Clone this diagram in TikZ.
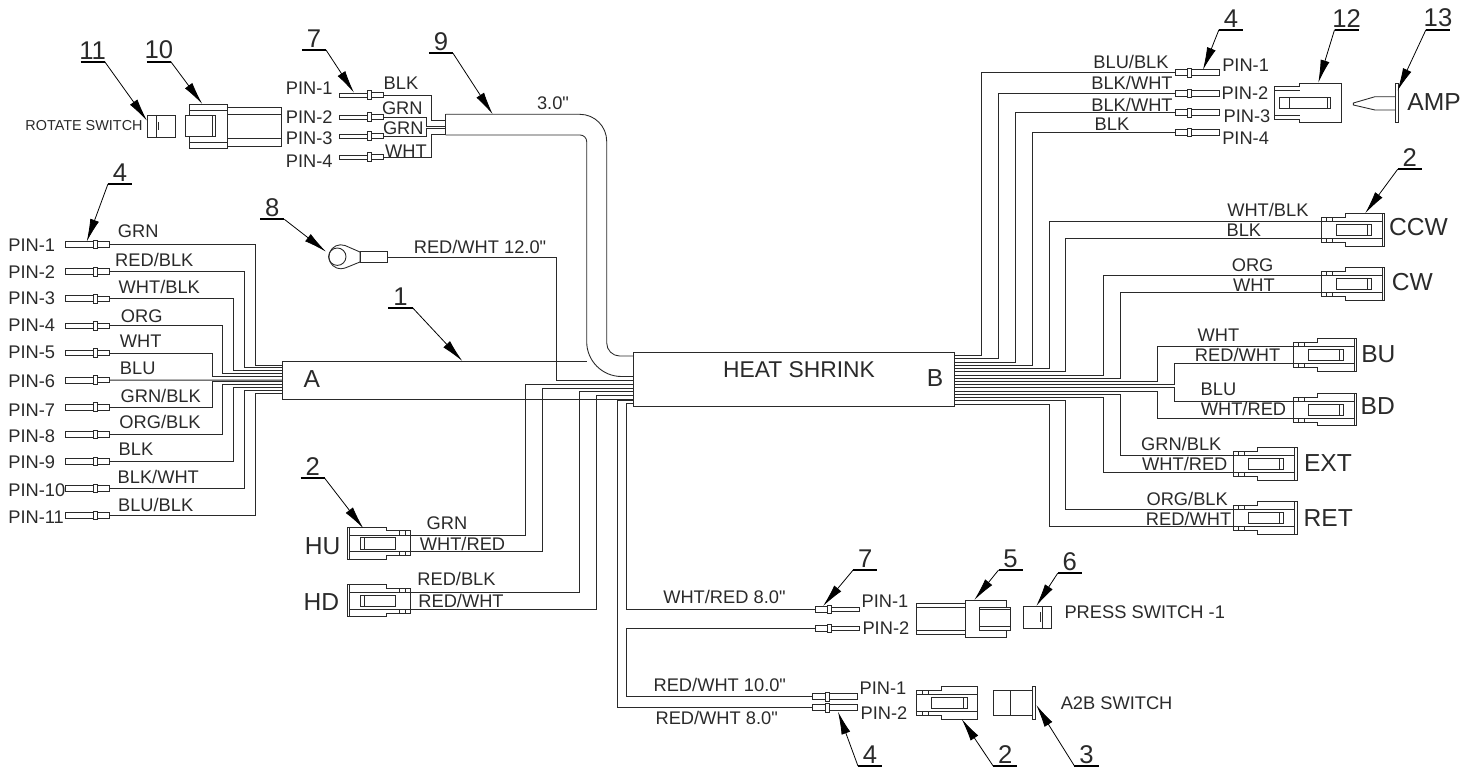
\documentclass[tikz,border=0pt]{standalone}
\usepackage{fontspec}
\setmainfont[Ligatures=TeXOff]{Liberation Sans}
\usetikzlibrary{arrows.meta}
\definecolor{ink}{HTML}{2A2A2A}
\tikzset{
  wire/.style={draw=ink,line width=0.55pt},
  part/.style={draw=ink,line width=0.5pt,fill=white},
  edge/.style={draw=ink,line width=0.5pt},
  colour/.style={text=ink,inner sep=0pt,font=\fontsize{10.4}{12}\selectfont},
  tag/.style={text=ink,inner sep=0pt,font=\fontsize{14}{16}\selectfont},
  note/.style={text=ink,inner sep=0pt,font=\fontsize{8.2}{10}\selectfont},
  itemno/.style={text=ink,inner sep=0pt,inner ysep=1.3pt,font=\fontsize{14.6}{16}\selectfont},
  pics/termpin/.style={code={
    \draw[part] (0,-#1) rectangle (28,#1);
    \draw[part] (28,-4.3) rectangle (32,4.3);
    \draw[part] (32,-2.8) rectangle (44.5,2.8);
    \coordinate (-w) at (44.5,0);
  }},
  pics/plug/.style={code={
    \draw[part] (0,-12.6) -- (24.4,-12.6) -- (24.4,-16.2) -- (61,-16.2) -- (61,16.2)
                -- (24.4,16.2) -- (24.4,12.6) -- (0,12.6) -- cycle;
    \draw[edge] (0,-8.3) -- (61,-8.3) (0,8.3) -- (61,8.3);
    \draw[part] (0,-12.6) rectangle (11.5,-8.3);
    \draw[part] (0,8.3) rectangle (11.5,12.6);
    \draw[edge] (5.5,-12.6) -- (5.5,-8.3) (5.5,8.3) -- (5.5,12.6);
    \draw[part] (15,-5.7) rectangle (50.4,5.7);
    \draw[edge] (46.3,-5.7) -- (46.3,5.7);
    \draw[part] (61,-16.2) rectangle (#1,16.2);
    \coordinate (-t) at (0,-8.3);
    \coordinate (-b) at (0,8.3);
  }}
}
\begin{document}
\begin{tikzpicture}[x=0.02cm,y=-0.02cm]
\useasboundingbox (0,0) rectangle (1475,767);
\foreach \k in {1,2,...,11}
  \coordinate (a\k) at (282.3,{365+2.83*(\k-1)});
\coordinate (a6) at (282.3,380.1);
\foreach \k in {0,1,...,15}
  \coordinate (b\k) at (954.3,{355.7+3.22*\k});
\foreach \k/\y in {1/380.7, 2/384.3, 3/388, 4/391.7, 5/395.5, 6/400, 7/403.3}
  \coordinate (h\k) at (633,\y);
\foreach \k/\y in {1/120, 2/126, 3/128.3, 4/134.3}
  \coordinate (c\k) at (445.7,\y);
% terminals
\foreach \k in {1,2,...,11}
  \pic (pa\k) at (65,{217.5+27.1*\k}) {termpin=2.9};
\foreach \k/\y in {1/95, 2/117, 3/136, 4/157}
  \pic (pt\k) at (339,\y) {termpin=2};
\foreach \k/\y in {1/72.7, 2/93.3, 3/112.7, 4/132.3}
  \pic[xscale=-1] (pr\k) at (1219.5,\y) {termpin=2.9};
\pic[xscale=-1] (pp1) at (859.5,609.3) {termpin=2};
\pic[xscale=-1] (pp2) at (859.5,628.3) {termpin=2};
\pic[xscale=-1] (pq1) at (857.2,696.7) {termpin=2.9};
\pic[xscale=-1] (pq2) at (857.2,707.7) {termpin=2.9};
% plugs
\foreach \n/\x/\y/\m/\p/\q in {ccw/1321/230/CCW/1418.4/227.3, cw/1321/284/CW/1412.4/282.3,
    bu/1293.2/355/BU/1378.4/354.3, bd/1293.2/409.7/BD/1377.7/405.7,
    ext/1233.4/464/EXT/1328/463.3, ret/1233.4/518/RET/1328.3/517.7}
  {\pic (\n) at (\x,\y) {plug=63.6};
   \node[tag] (lb\n) at (\p,\q) {\m};};
\pic[xscale=-1] (hu) at (410.7,543.3) {plug=63.6};
\pic[xscale=-1] (hd) at (410.7,600.7) {plug=63.6};
\pic (ab) at (916.9,703) {plug=61};
\node[tag] (lbhu) at (322.7,545.7) {HU};
\node[tag] (lbhd) at (321.3,602.3) {HD};
% ring terminal
\draw[part] (360,252) -- (345,245.5) arc (-70:-290:12) -- (360,262) -- cycle;
\draw[edge] (337.3,256.7) circle [radius=8.7];
\draw[part] (360,251.3) rectangle (387.3,262.7);
\coordinate (ring) at (387.3,257);
% wires
\foreach \k/\x in {1/255, 2/244.7, 3/233.3, 4/222.7, 5/212, 7/212, 8/222.7, 9/233.3, 10/244.7, 11/255}
  \draw[wire] (pa\k-w) -| (a\k -| \x,0) -- (a\k);
\draw[wire] (pa6-w) -- (a6);
\foreach \k/\x/\e in {0/981.4/pr1-w, 1/998.5/pr2-w, 2/1015.2/pr3-w, 3/1032.5/pr4-w,
    4/1049.2/ccw-t, 5/1065.9/ccw-b, 6/1103.4/cw-t, 7/1120.1/cw-b,
    8/1157.7/bu-t, 9/1174.4/bu-b, 10/1174.4/bd-t, 11/1157.7/bd-b,
    12/1120.1/ext-t, 13/1103.4/ext-b, 14/1065.9/ret-t, 15/1049.2/ret-b}
  \draw[wire] (b\k) -| (\e -| \x,0) -- (\e);
\foreach \k/\x/\e in {1/556/ring, 2/525.3/hu-t, 3/542.7/hu-b, 4/579.3/hd-t, 5/596.7/hd-b,
    6/617.5/pq2-w, 7/626.5/pp1-w}
  \draw[wire] (h\k) -| (\e -| \x,0) -- (\e);
\draw[wire] (pp2-w) -| (pq1-w -| 626.5,0) -- (pq1-w);
\draw[wire] (pt1-w) -| (c1 -| 431.7,0) -- (c1);
\draw[wire] (pt2-w) -| (c2 -| 426.7,0) -- (c2);
\draw[wire] (pt3-w) -| (c3 -| 426.7,0) -- (c3);
\draw[wire] (pt4-w) -| (c4 -| 431.7,0) -- (c4);
% sleeves
\draw[edge] (586.7,361.3) -| (282.3,399) -- (633,399);
\node[part,minimum width=6.426cm,minimum height=1.08cm,inner sep=0pt] (shrink) at (793.65,379.7) {};
\draw[edge] (445.7,114.3) -- (445.7,135);
\draw[edge,rounded corners=15.3pt] (445.7,114.3) -- (606.7,114.3)
   [rounded corners=7.4pt] -- (606.7,356) -- (633,356);
\draw[edge,rounded corners=3.8pt] (445.7,135) -- (586.7,135)
   [rounded corners=19.8pt] -- (586.7,376.5) -- (633,376.5);
\node[tag] (lba) at (311.7,379.3) {A};
\node[tag] (lbb) at (935,378) {B};
\node[tag,font=\fontsize{13}{15}\selectfont] (lbshrink) at (799,370) {HEAT SHRINK};
% connectors and switches
\draw[part] (189,104) rectangle (227.7,148);
\draw[edge] (189,110) -- (227.7,110) (189,142) -- (227.7,142);
\draw[part] (227.7,107) rectangle (281.7,146);
\draw[edge] (227.7,114) -- (281.7,114) (227.7,138) -- (281.7,138);
\draw[part] (185,115.7) rectangle (215,136.7);
\draw[edge] (212.5,115.7) -- (212.5,136.7);
\draw[part] (147.3,115) rectangle (175.7,137.3);
\draw[edge] (156.7,115) -- (156.7,137.3) (158,122) -- (158,130);
\draw[part] (1341.9,83.3) -- (1299.5,83.3) -- (1299.5,86.7) -- (1274.8,86.7) -- (1274.8,119)
   -- (1299.5,119) -- (1299.5,122.3) -- (1341.9,122.3) -- cycle;
\draw[edge] (1274.8,90) -- (1299.5,90) (1274.8,115) -- (1299.5,115);
\draw[part] (1279.3,97.7) rectangle (1330.8,108.3);
\draw[edge] (1289.8,97.7) -- (1289.8,108.3) (1327.3,97.7) -- (1327.3,108.3);
\draw[part] (1395,96.7) -- (1375,96.7) -- (1353.4,103) -- (1353.4,105) -- (1375,110) -- (1395,110);
\draw[part] (1395,83.3) rectangle (1398.2,122.3);
\draw[part] (916.9,603.3) rectangle (965.5,634.3);
\draw[edge] (916.9,607.5) -- (965.5,607.5) (916.9,630) -- (965.5,630);
\draw[part] (965.5,600) rectangle (1006.4,637.3);
\draw[part] (979.6,607.7) rectangle (1010.6,630);
\draw[edge] (979.6,609.5) -- (1010.6,609.5) (979.6,626.7) -- (1010.6,626.7);
\draw[part] (1023.6,606) rectangle (1051.6,628.3);
\draw[edge] (1042,606) -- (1042,628.3) (1040,612) -- (1040,622);
\draw[part] (993.4,690) rectangle (1032.5,715);
\draw[edge] (1010.6,690) -- (1010.6,715);
\draw[part] (1032.5,686.7) rectangle (1035.5,719);
% pin names
\foreach \k/\y in {1/245, 2/272.3, 3/298.3, 4/325, 5/352.3, 6/381, 7/410, 8/436.7, 9/462.7, 10/490, 11/517.3}
  \node[colour,anchor=west] (na\k) at (8,\y) {PIN-\k};
\foreach \k/\y in {1/88.3, 2/116.7, 3/138.3, 4/161.7}
  \node[colour,anchor=east] (nt\k) at (333,\y) {PIN-\k};
\foreach \k/\x/\y in {1/1245.6/65.7, 2/1245/93.3, 3/1247/116, 4/1245.6/138.3}
  \node[colour] (nr\k) at (\x,\y) {PIN-\k};
\foreach \k/\x/\y in {1/885/601, 2/885.9/628.3}
  \node[colour] (np\k) at (\x,\y) {PIN-\k};
\foreach \k/\x/\y in {1/883/688.3, 2/884/713.3}
  \node[colour] (nq\k) at (\x,\y) {PIN-\k};
% wire colours
\foreach \k/\n/\x/\y in {1/GRN/138.3/231, 2/{RED/BLK}/154.3/260, 3/{WHT/BLK}/159.3/286.7, 4/ORG/141.7/316,
    5/WHT/140.7/341.7, 6/BLU/137.7/368.3, 7/{GRN/BLK}/160.7/395.7, 8/{ORG/BLK}/160/421.7,
    9/BLK/136/449.3, 10/{BLK/WHT}/158.3/476.7, 11/{BLU/BLK}/155.7/505,
    12/BLK/401/83.3, 13/GRN/402.3/108.3, 14/GRN/403.3/128.3, 15/WHT/406/151,
    16/{BLU/BLK}/1131/61.7, 17/{BLK/WHT}/1132/83.3, 18/{BLK/WHT}/1132/105, 19/BLK/1112/124,
    20/{WHT/BLK}/1267.9/210, 21/BLK/1243.9/230, 22/ORG/1252.6/265, 23/WHT/1254/285,
    24/WHT/1218.5/335, 25/{RED/WHT}/1237.6/355, 26/BLU/1218.5/389, 27/{WHT/RED}/1243.5/409.3,
    28/{GRN/BLK}/1181.3/444, 29/{WHT/RED}/1184.8/464, 30/{ORG/BLK}/1187.2/498.7, 31/{RED/WHT}/1188.6/518.7,
    32/GRN/447/523.5, 33/{WHT/RED}/462.5/543.5, 34/{RED/BLK}/456.5/579, 35/{RED/WHT}/461/600.5,
    36/{RED/WHT 12.0"}/480/247, 37/3.0"/553/103, 38/{WHT/RED 8.0"}/724.4/596.7,
    39/{RED/WHT 10.0"}/719.8/685, 40/{RED/WHT 8.0"}/716.7/718.3}
  \node[colour] (wl\k) at (\x,\y) {\n};
\node[note] (lbrotate) at (84,126) {ROTATE SWITCH};
\node[colour,anchor=west] (lbpress) at (1064.2,612.7) {PRESS SWITCH -1};
\node[colour,anchor=west] (lba2b) at (1060.4,703) {A2B SWITCH};
\node[tag] (lbamp) at (1434,101.7) {AMP};
% item numbers
\foreach \k/\n/\x/\y/\a/\p/\q in {a/1/400.5/307.7/south east/462.3/361, b/2/312.7/478.3/south east/363.3/528.3,
    c/3/1086.5/766/south west/1036.3/705, d/4/120/184/south west/86.7/241.7,
    e/4/1231/29.7/south west/1202.9/70, f/4/870/766/south west/838/711.7,
    g/2/1409.7/169.3/south west/1365.2/213.3, h/2/1005.2/766/south west/961.7/719,
    i/5/1010.6/570/south west/974.3/600, j/6/1069.7/573.3/south west/1036.3/606,
    k/7/314/50/south east/354/92.7, l/7/865.2/570/south west/823.1/606,
    m/8/272.3/219.3/south east/326/251.7, n/9/441/53.3/south east/492.7/114.3,
    o/10/158.8/61.7/south east/202.3/104, p/11/92.7/61.7/south east/147/120.7,
    q/12/1346.6/29.7/south west/1318.3/82.7, r/13/1438/29.7/south west/1397.5/90.7}
  {\node[itemno,anchor=south] (no\k) at (\x,\y) {\hbox to 13.3pt{\hss\n\hss}};
   \coordinate (tip\k) at (\p,\q);
   \draw[black,line width=1pt] (no\k.south west) -- (no\k.south east);
   \draw[-{Latex[length=13pt,width=5.2pt]},black,line width=0.45pt] (no\k.\a) -- (tip\k);
  };
\end{tikzpicture}
\end{document}
